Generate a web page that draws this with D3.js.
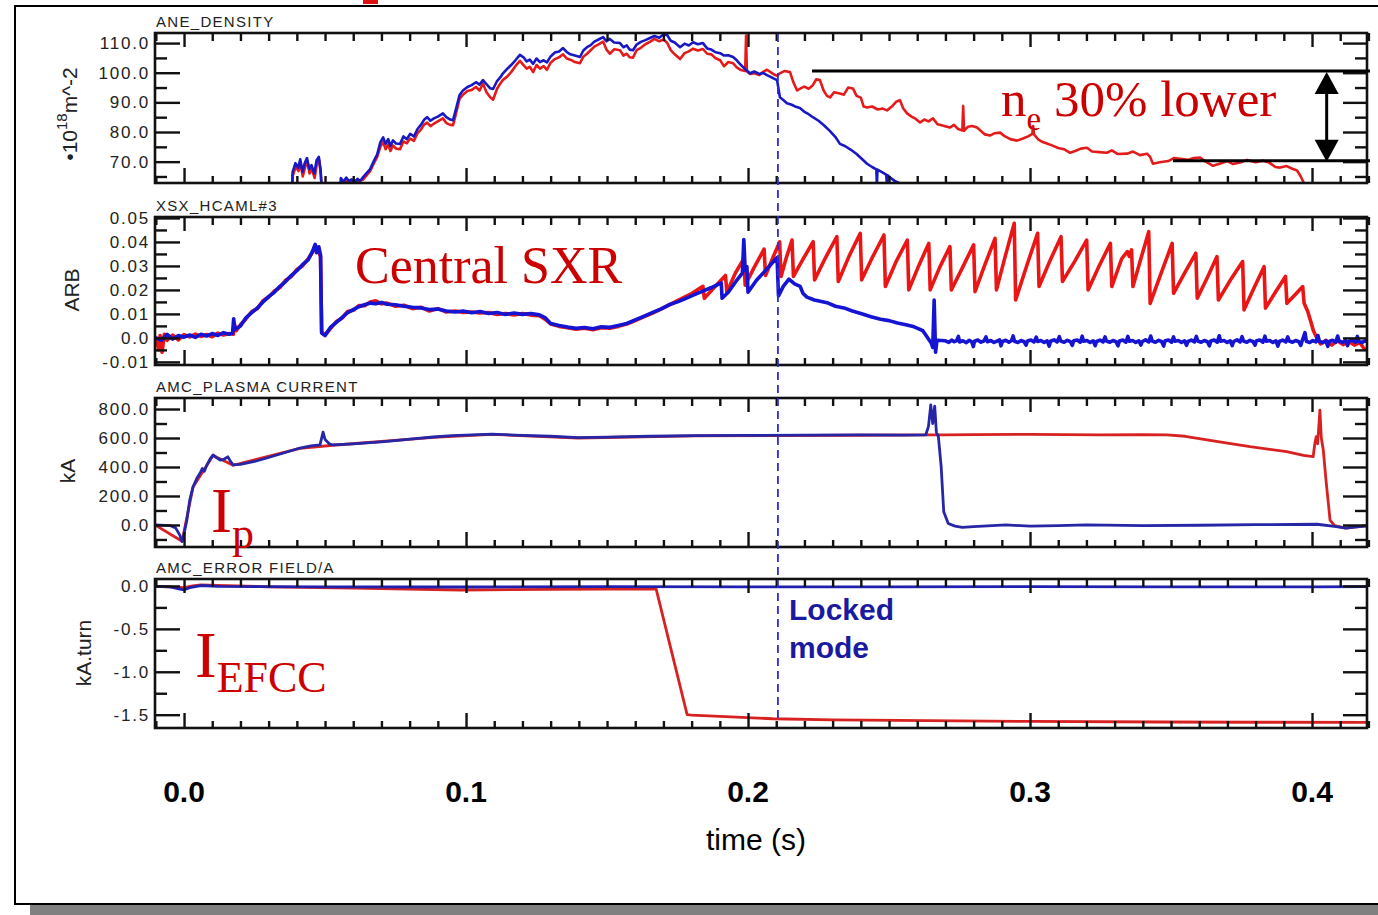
<!DOCTYPE html>
<html>
<head>
<meta charset="utf-8">
<script src="https://d3js.org/d3.v7.min.js"></script>
<style>
body{margin:0;background:#fff;}
svg{display:block;}
</style>
</head>
<body>
<svg class="chart"></svg>
<script>
// time axis
var timeTicks=[0,0.1,0.2,0.3,0.4];
var timeLabels=["0.0","0.1","0.2","0.3","0.4"];
var lockTime=0.2106;

// panel 1: line integrated density
var neTicks=[70,80,90,100,110];
var neLabels=["70.0","80.0","90.0","100.0","110.0"];
var neMinor=[65,75,85,95,105];
var neBlue=[[0.0383,60],[0.0385,66.5],[0.0395,69.5],[0.0405,68],[0.0412,70.8],[0.0420,66.5],[0.0428,69.5],[0.0436,71.2],[0.0444,67.5],[0.0452,68.8],[0.0462,66],[0.0470,70.5],[0.0478,71.6],[0.0484,67.5],[0.0489,60],
[0.0553,60],[0.0556,64.5],[0.0565,63.2],[0.0575,64.6],[0.0585,63.4],[0.0595,64],[0.0605,63.1],[0.0615,64.2],[0.0625,63.5],[0.0635,64.8],[0.0648,66.2],[0.0660,67.5],[0.0672,70],[0.0685,72.5],[0.0696,76.5],[0.0706,78.2],[0.0715,76],[0.0724,77.6],[0.0732,75.3],[0.0741,77.2],[0.0752,76.1],[0.0766,76],[0.0778,78.5],[0.0790,77.6],[0.0802,79.4],[0.0815,78.5],[0.0828,81],[0.0840,82.4],[0.0852,84.2],[0.0862,85],[0.0874,83.8],[0.0886,84.6],[0.0900,85.2],[0.0918,86.3],[0.0930,85],[0.0944,84.2],[0.0954,84],[0.0965,88],[0.0977,92.5],[0.0989,94],[0.1005,95.2],[0.1020,95.8],[0.1035,96.8],[0.1048,96],[0.1060,97.5],[0.1072,96.2],[0.1085,94.8],[0.1096,94.5],[0.1110,97.2],[0.1122,98.5],[0.1131,99.8],[0.1145,101.2],[0.1160,102.6],[0.1175,104.2],[0.1191,106],[0.1204,105.2],[0.1215,103.8],[0.1226,104.4],[0.1238,103],[0.1250,104.8],[0.1262,103.6],[0.1275,104.2],[0.1287,103.5],[0.1300,105.5],[0.1315,106.8],[0.1330,107.2],[0.1344,108.3],[0.1357,107],[0.1370,106.2],[0.1386,105.8],[0.1404,105.3],[0.1416,107.5],[0.1429,108.6],[0.1442,109.3],[0.1455,110.5],[0.1470,111.2],[0.1486,112],[0.1498,110.6],[0.1510,111.4],[0.1525,110.2],[0.1546,110],[0.1558,108.6],[0.1570,109.2],[0.1580,107.8],[0.1592,107.6],[0.1605,109.5],[0.1620,110.4],[0.1636,111],[0.1652,111.7],[0.1668,112.4],[0.1685,111.8],[0.1700,112.9],[0.1713,112.7],[0.1726,110.8],[0.1740,110.2],[0.1759,108.6],[0.1775,109.8],[0.1790,109.2],[0.1805,110.3],[0.1822,109.6],[0.1840,110],[0.1855,108.2],[0.1870,107.8],[0.1885,106.9],[0.1901,106.6],[0.1915,105.8],[0.1930,105.9],[0.1947,105.3],[0.1960,104.2],[0.1975,102.6],[0.1990,101.2],[0.2007,99.8],[0.2022,100.4],[0.2040,99.6],[0.2055,99.9],[0.2067,99.2],[0.2080,98.6],[0.2092,98],[0.2103,97.5],[0.2113,91.7],[0.2125,90.8],[0.2138,89.7],[0.2155,89.2],[0.2170,88.5],[0.2184,88.1],[0.2200,86.8],[0.2215,86],[0.2230,85],[0.2250,83.8],[0.2270,82.2],[0.2290,80.4],[0.2310,78.3],[0.2326,76],[0.2345,75.2],[0.2365,74],[0.2385,72.6],[0.2405,70.8],[0.2422,69.3],[0.2440,68.2],[0.2455,67.4],[0.2457,62],[0.2459,67.3],[0.2475,66.5],[0.2490,65.6],[0.2493,62],[0.2496,65.4],[0.2504,64.6],[0.2520,63.5],[0.2535,62.8],[0.2550,62],[0.2565,60]];
var neRed=[[0.0383,60],[0.0386,65.5],[0.0396,68.2],[0.0406,66.8],[0.0413,69.8],[0.0421,65],[0.0429,68],[0.0437,70.2],[0.0445,66],[0.0453,67.6],[0.0463,64.5],[0.0471,69.2],[0.0479,70.6],[0.0485,65.5],[0.0489,60],
[0.0556,60],[0.0560,63.5],[0.0575,63.2],[0.0590,63.8],[0.0605,62.9],[0.0620,63.6],[0.0635,63.9],[0.0648,65.4],[0.0660,66.8],[0.0672,69.2],[0.0685,71.6],[0.0696,75],[0.0706,76.6],[0.0715,74.2],[0.0724,75.8],[0.0732,73.6],[0.0741,75.5],[0.0752,74.4],[0.0766,74.2],[0.0778,76.8],[0.0790,76.2],[0.0802,77.8],[0.0815,77],[0.0828,79.6],[0.0840,80.8],[0.0852,82.6],[0.0862,83.2],[0.0874,82],[0.0886,82.8],[0.0900,83.6],[0.0918,84.6],[0.0930,83],[0.0944,82.4],[0.0954,82.3],[0.0965,86.4],[0.0977,91.2],[0.0989,92.6],[0.1005,93.8],[0.1020,94.2],[0.1035,95.2],[0.1048,94],[0.1060,96.4],[0.1072,93.5],[0.1085,91.8],[0.1096,90.9],[0.1110,94.6],[0.1122,96.4],[0.1131,97.6],[0.1145,98.6],[0.1160,100.2],[0.1175,102.2],[0.1191,104],[0.1204,102.6],[0.1215,101.4],[0.1226,102],[0.1238,100.2],[0.1250,102.6],[0.1262,101.4],[0.1275,102.2],[0.1287,101],[0.1300,103.4],[0.1315,104.6],[0.1330,105.2],[0.1344,106.2],[0.1357,104.8],[0.1370,104.4],[0.1386,103.6],[0.1404,103.2],[0.1416,105.4],[0.1429,106.4],[0.1442,107.6],[0.1455,108.8],[0.1470,109.6],[0.1486,110.5],[0.1498,107.8],[0.1510,106.4],[0.1525,107.9],[0.1546,107.6],[0.1558,105.8],[0.1570,106.4],[0.1580,105.2],[0.1592,105.1],[0.1605,107.6],[0.1620,108.4],[0.1636,109.6],[0.1652,110.4],[0.1668,111.4],[0.1685,110.6],[0.1700,111.2],[0.1713,110.1],[0.1726,107.6],[0.1740,106.2],[0.1759,104.6],[0.1775,106.6],[0.1790,107.2],[0.1805,108.1],[0.1822,107.5],[0.1840,108],[0.1855,106.4],[0.1870,106.2],[0.1885,104.9],[0.1901,104.2],[0.1915,102.2],[0.1930,103.6],[0.1947,103.2],[0.1960,101.8],[0.1975,100.9],[0.1990,100.6],[0.1993,112.5],[0.1996,100.5],[0.2007,99.6],[0.2022,99.8],[0.2040,99.2],[0.2055,100.4],[0.2067,101],[0.2080,100.2],[0.2092,99.4],[0.2103,99],[0.2113,99.8],[0.2130,100.6],[0.2149,100.2],[0.2160,97],[0.2174,94],[0.2188,94.8],[0.2200,95.3],[0.2215,94.6],[0.2230,95.8],[0.2242,97.8],[0.2255,97.5],[0.2268,94],[0.2280,92.2],[0.2291,91.7],[0.2305,93.4],[0.2326,93],[0.2340,92.6],[0.2355,95],[0.2372,94.7],[0.2385,92.2],[0.2400,91.6],[0.2410,88.6],[0.2422,88.3],[0.2440,88.6],[0.2460,87.6],[0.2478,87.9],[0.2493,87.3],[0.2510,88.6],[0.2525,90.2],[0.2539,90.7],[0.2550,88],[0.2564,86.3],[0.2580,85.2],[0.2595,84.4],[0.2610,83.2],[0.2625,84.2],[0.2640,83.6],[0.2656,84.6],[0.2672,82.6],[0.2690,82.2],[0.2705,81.8],[0.2716,81.5],[0.2730,82.4],[0.2745,81],[0.2760,80.5],[0.2763,88.8],[0.2766,80.4],[0.2780,81.8],[0.2795,82],[0.2812,81.5],[0.2825,80.4],[0.2840,79.2],[0.2858,78.8],[0.2875,79.6],[0.2894,79.8],[0.2910,78.6],[0.2930,77.6],[0.2954,77.1],[0.2975,77.8],[0.2995,78.6],[0.3008,79.4],[0.3011,82],[0.3014,79.2],[0.3030,77.4],[0.3045,76.6],[0.3060,76.1],[0.3080,75.4],[0.3100,74.6],[0.3120,74.2],[0.3142,73],[0.3160,73.6],[0.3180,74.4],[0.3202,74.7],[0.3220,73.4],[0.3245,73.2],[0.3273,73],[0.3290,73.8],[0.3310,72.6],[0.3344,72.7],[0.3365,73.4],[0.3390,72.2],[0.3415,72.7],[0.3426,71.6],[0.3436,69.3],[0.3460,69.8],[0.3490,70.2],[0.3510,71.2],[0.3532,71],[0.3560,70.6],[0.3580,71.2],[0.3603,71.4],[0.3620,70.2],[0.3649,68.6],[0.3675,69.4],[0.3700,70.2],[0.3720,69.2],[0.3745,69.7],[0.3770,70.6],[0.3800,69.8],[0.3826,70.3],[0.3850,69.6],[0.3870,68.2],[0.3887,68],[0.3910,68.5],[0.3930,67.6],[0.3947,67],[0.3960,65],[0.3975,62],[0.3990,60]];
var neLevels=[100.6,70.3];
var neLevelStart=[0.2227,0.3507];
var neArrowTime=0.4052;

// panel 2: central soft x-ray
var sxrTicks=[-0.01,0,0.01,0.02,0.03,0.04,0.05];
var sxrLabels=["-0.01","0.0","0.01","0.02","0.03","0.04","0.05"];
var sxrMinor=[-0.005,0.005,0.015,0.025,0.035,0.045];
var sxrBlue=[[-0.0103,0.0002],[-0.008,-0.001],[-0.006,0.0015],[-0.004,-0.0005],[-0.002,0.001],[0.000,0.0003],[0.002,0.0012],[0.004,0.0002],[0.006,0.0015],[0.008,0.0008],[0.010,0.0018],[0.012,0.001],[0.014,0.0022],[0.016,0.0015],[0.0172,0.002],[0.0176,0.008],[0.0180,0.0035],[0.020,0.005],[0.022,0.0085],[0.024,0.0105],[0.026,0.0125],[0.028,0.015],[0.030,0.0172],[0.032,0.019],[0.034,0.0215],[0.036,0.0235],[0.038,0.026],[0.040,0.028],[0.042,0.0305],[0.044,0.0325],[0.0455,0.036],[0.0465,0.039],[0.047,0.0355],[0.0478,0.038],[0.0484,0.0345],[0.0488,0.002],[0.050,0.001],[0.052,0.0045],[0.054,0.0065],[0.056,0.0085],[0.058,0.0105],[0.060,0.0118],[0.062,0.013],[0.064,0.0138],[0.066,0.0145],[0.068,0.0142],[0.070,0.0148],[0.072,0.014],[0.075,0.0138],[0.078,0.0132],[0.081,0.0128],[0.084,0.0125],[0.087,0.0118],[0.090,0.012],[0.093,0.0112],[0.096,0.0108],[0.099,0.0112],[0.102,0.0105],[0.105,0.011],[0.108,0.0102],[0.111,0.0106],[0.114,0.0098],[0.117,0.0104],[0.120,0.0098],[0.123,0.0102],[0.126,0.0096],[0.128,0.0085],[0.130,0.006],[0.133,0.0052],[0.136,0.0045],[0.139,0.004],[0.142,0.0043],[0.145,0.0038],[0.148,0.0046],[0.151,0.0044],[0.154,0.0052],[0.157,0.006],[0.160,0.0075],[0.163,0.009],[0.166,0.0105],[0.169,0.012],[0.172,0.0138],[0.175,0.015],[0.178,0.0165],[0.181,0.018],[0.184,0.0195],[0.187,0.021],[0.1905,0.0229],[0.1908,0.0165],[0.193,0.019],[0.196,0.024],[0.198,0.027],[0.1985,0.041],[0.199,0.028],[0.1996,0.0297],[0.2,0.019],[0.203,0.024],[0.2065,0.0285],[0.2103,0.0335],[0.2108,0.0175],[0.2125,0.0215],[0.2145,0.0245],[0.2165,0.0225],[0.2185,0.0215],[0.2195,0.0185],[0.2209,0.017],[0.2235,0.0158],[0.226,0.0152],[0.2284,0.0145],[0.231,0.0132],[0.234,0.0125],[0.237,0.0112],[0.240,0.0102],[0.2436,0.0088],[0.247,0.0078],[0.250,0.0072],[0.253,0.0062],[0.256,0.0055],[0.2589,0.0046],[0.262,0.003],[0.2649,-0.002],[0.2655,-0.004],[0.2660,0.0158],[0.2665,-0.006],[0.2670,-0.001],
[0.2700,-0.0012],[0.2712,-0.0019],[0.2722,-0.0009],[0.2731,-0.0016],[0.2740,-0.0011],[0.2746,0.0006],[0.2750,-0.0017],[0.2762,-0.0012],[0.2774,-0.0020],[0.2784,-0.0010],[0.2793,-0.0016],[0.2799,-0.0036],[0.2803,-0.0014],[0.2815,-0.0009],[0.2826,-0.0018],[0.2837,-0.0012],[0.2844,0.0004],[0.2849,-0.0016],[0.2861,-0.0011],[0.2872,-0.0019],[0.2883,-0.0013],[0.2892,-0.0008],[0.2897,-0.0033],[0.2902,-0.0015],[0.2914,-0.0010],[0.2925,-0.0018],[0.2934,-0.0012],[0.2940,0.0008],[0.2945,-0.0014],[0.2957,-0.0019],[0.2968,-0.0011],[0.2979,-0.0016],[0.2986,-0.0030],[0.2991,-0.0013],[0.3003,-0.0009],[0.3014,-0.0017],[0.3022,0.0003],[0.3027,-0.0015],[0.3039,-0.0011],[0.3050,-0.0019],[0.3061,-0.0012],[0.3068,-0.0034],[0.3073,-0.0014],[0.3085,-0.0008],[0.3096,-0.0017],[0.3104,0.0005],[0.3109,-0.0013],[0.3121,-0.0018],[0.3132,-0.0010],[0.3143,-0.0016],[0.3150,-0.0031],[0.3155,-0.0012],[0.3167,-0.0009],[0.3178,-0.0018],[0.3185,0.0007],[0.3190,-0.0014],[0.3202,-0.0011],[0.3213,-0.0019],[0.3224,-0.0012],[0.3231,-0.0032],[0.3236,-0.0015],[0.3248,-0.0009],[0.3259,-0.0017],[0.3266,0.0004],[0.3271,-0.0013],[0.3283,-0.0018],[0.3294,-0.0011],[0.3305,-0.0016],[0.3312,-0.0033],[0.3317,-0.0013],[0.3329,-0.0009],[0.3340,-0.0018],[0.3347,0.0006],[0.3352,-0.0014],[0.3364,-0.0011],[0.3375,-0.0019],[0.3386,-0.0012],[0.3393,-0.0030],[0.3398,-0.0015],[0.3410,-0.0008],[0.3421,-0.0017],[0.3428,0.0008],[0.3433,-0.0013],[0.3445,-0.0018],[0.3456,-0.0010],[0.3467,-0.0016],[0.3474,-0.0034],[0.3479,-0.0012],[0.3491,-0.0009],[0.3502,-0.0018],[0.3509,0.0004],[0.3514,-0.0014],[0.3526,-0.0011],[0.3537,-0.0019],[0.3548,-0.0012],[0.3555,-0.0031],[0.3560,-0.0015],[0.3572,-0.0009],[0.3583,-0.0017],[0.3590,0.0006],[0.3595,-0.0013],[0.3607,-0.0018],[0.3618,-0.0011],[0.3629,-0.0016],[0.3636,-0.0033],[0.3641,-0.0013],[0.3653,-0.0009],[0.3664,-0.0018],[0.3671,0.0009],[0.3676,-0.0014],[0.3688,-0.0011],[0.3699,-0.0019],[0.3710,-0.0012],[0.3717,-0.0032],[0.3722,-0.0015],[0.3734,-0.0008],[0.3745,-0.0017],[0.3752,0.0005],[0.3757,-0.0013],[0.3769,-0.0018],[0.3780,-0.0010],[0.3791,-0.0016],[0.3798,-0.0030],[0.3803,-0.0012],[0.3815,-0.0009],[0.3826,-0.0018],[0.3833,0.0007],[0.3838,-0.0014],[0.3850,-0.0011],[0.3861,-0.0019],[0.3872,-0.0012],[0.3879,-0.0034],[0.3884,-0.0015],[0.3896,-0.0009],[0.3907,-0.0017],[0.3914,0.0004],[0.3919,-0.0013],[0.3931,-0.0018],[0.3942,-0.0011],[0.3953,-0.0016],[0.3960,-0.0031],[0.3965,-0.0013],[0.3975,0.0022],[0.3980,-0.0014],[0.3992,-0.0019],[0.4003,-0.0011],[0.4014,-0.0017],[0.4021,0.0010],[0.4026,-0.0014],[0.4038,-0.0020],[0.4049,-0.0012],[0.4056,-0.0035],[0.4061,-0.0015],[0.4073,-0.0010],[0.4084,-0.0018],[0.4091,0.0008],[0.4096,-0.0013],[0.4108,-0.0019],[0.4119,-0.0011],[0.4126,-0.0032],[0.4131,-0.0014],[0.4143,-0.0010],[0.4154,-0.0018],[0.4161,0.0006],[0.4166,-0.0015],[0.4178,-0.0019],[0.4189,-0.0012],[0.4195,-0.0016]];
var sxrRed=[[-0.0103,0.0],[-0.0095,-0.002],[-0.009,-0.005],[-0.0085,0.001],[-0.0078,-0.006],[-0.007,0.0015],[-0.006,-0.001],[-0.004,0.0012],[-0.002,-0.0008],[0.000,0.0014],[0.002,0.0004],[0.004,0.0016],[0.006,0.0006],[0.008,0.0014],[0.010,0.0005],[0.012,0.002],[0.014,0.0012],[0.016,0.0018],[0.0175,0.0015],[0.0178,0.006],[0.0185,0.003],[0.020,0.0055],[0.022,0.008],[0.024,0.011],[0.026,0.0122],[0.028,0.0155],[0.030,0.017],[0.032,0.0195],[0.034,0.021],[0.036,0.024],[0.038,0.0255],[0.040,0.0285],[0.042,0.030],[0.044,0.033],[0.0455,0.0355],[0.0465,0.0385],[0.0475,0.0365],[0.0484,0.034],[0.0488,0.0025],[0.050,0.0012],[0.052,0.004],[0.054,0.0068],[0.056,0.0082],[0.058,0.011],[0.060,0.0115],[0.062,0.0135],[0.064,0.0134],[0.066,0.015],[0.068,0.0155],[0.070,0.0142],[0.072,0.0145],[0.075,0.0132],[0.078,0.0136],[0.081,0.0122],[0.084,0.0128],[0.087,0.0112],[0.090,0.0122],[0.093,0.0108],[0.096,0.0112],[0.099,0.0106],[0.102,0.0108],[0.105,0.0104],[0.108,0.0106],[0.111,0.0098],[0.114,0.0102],[0.117,0.0096],[0.120,0.0102],[0.123,0.0095],[0.126,0.0092],[0.128,0.0078],[0.130,0.0058],[0.133,0.0048],[0.136,0.0042],[0.139,0.0036],[0.142,0.004],[0.145,0.0034],[0.148,0.0042],[0.151,0.004],[0.154,0.0048],[0.157,0.0058],[0.160,0.0072],[0.163,0.0088],[0.166,0.0102],[0.170,0.0125],[0.175,0.0155],[0.180,0.0185],[0.1840,0.0215],[0.1845,0.0165],[0.188,0.021],[0.1920,0.026],[0.1925,0.019],[0.1955,0.027],[0.1985,0.033],[0.199,0.022],[0.202,0.029],[0.2057,0.037],[0.2062,0.026],[0.209,0.034],
[0.2112,0.0400],[0.2117,0.0256],[0.2136,0.0335],[0.2156,0.0408],
[0.2161,0.0256],[0.2196,0.0330],[0.2231,0.0401],
[0.2236,0.0242],[0.2275,0.0335],[0.2315,0.0422],
[0.2320,0.0235],[0.2358,0.0340],[0.2398,0.0436],
[0.2403,0.0242],[0.2442,0.0338],[0.2482,0.0429],
[0.2487,0.0214],[0.2525,0.0318],[0.2565,0.0408],
[0.2570,0.0200],[0.2605,0.0300],[0.2641,0.0394],
[0.2646,0.0200],[0.2680,0.0295],[0.2716,0.0381],
[0.2721,0.0200],[0.2760,0.0292],[0.2800,0.0388],
[0.2805,0.0193],[0.2840,0.0305],[0.2876,0.0415],
[0.2881,0.0200],[0.2912,0.0340],[0.2944,0.0478],
[0.2949,0.0158],[0.2988,0.0300],[0.3027,0.0436],
[0.3032,0.0214],[0.3070,0.0320],[0.3110,0.0422],
[0.3115,0.0235],[0.3158,0.0318],[0.3201,0.0408],
[0.3206,0.0200],[0.3245,0.0300],[0.3285,0.0394],
[0.3290,0.0214],[0.3325,0.0330],[0.3345,0.0360],[0.3352,0.0340],[0.3360,0.0367],
[0.3365,0.0214],[0.3393,0.0330],[0.3421,0.0443],
[0.3426,0.0144],[0.3465,0.0270],[0.3504,0.0394],
[0.3509,0.0186],[0.3548,0.0270],[0.3588,0.0353],
[0.3593,0.0165],[0.3628,0.0250],[0.3663,0.0339],
[0.3668,0.0158],[0.3710,0.0240],[0.3754,0.0318],
[0.3759,0.0117],[0.3795,0.0210],[0.3830,0.0297],
[0.3835,0.0124],[0.3870,0.0190],[0.3906,0.0256],
[0.3911,0.0144],[0.3940,0.0180],[0.3967,0.0214],
[0.3972,0.0144],[0.3985,0.0110],[0.3995,0.0070],[0.4005,0.0030],[0.4015,0.0005],[0.403,-0.0025],[0.405,-0.001],[0.407,-0.003],[0.409,-0.0012],[0.411,-0.0028],[0.413,-0.0015],[0.415,-0.003],[0.417,-0.002],[0.4185,-0.0045],[0.4195,-0.005]];

// panel 3: plasma current
var ipTicks=[0,200,400,600,800];
var ipLabels=["0.0","200.0","400.0","600.0","800.0"];
var ipMinor=[-100,100,300,500,700];
var ipBlue=[[-0.0103,0],[-0.005,-4],[-0.003,-20],[-0.0015,-70],[-0.0007,-115],[0.0,-60],[0.001,34],[0.002,170],[0.0032,264],[0.0045,320],[0.0057,358],[0.0065,390],[0.0072,370],[0.008,410],[0.0092,455],[0.0103,483],[0.0115,465],[0.0128,448],[0.0140,452],[0.0155,470],[0.0163,445],[0.0174,414],[0.020,418],[0.025,438],[0.0294,462],[0.035,495],[0.0411,531],[0.0450,545],[0.0482,552],[0.0493,641],[0.0500,590],[0.0515,560],[0.0528,552],[0.0600,560],[0.0649,566],[0.0700,574],[0.0766,586],[0.0830,598],[0.0884,607],[0.0950,616],[0.1092,627],[0.1200,618],[0.1300,612],[0.1397,602],[0.1500,606],[0.1650,612],[0.1812,616],[0.2000,618],[0.2200,620],[0.2400,621],[0.2550,620],[0.2630,621],[0.2640,680],[0.2648,828],[0.2655,700],[0.2662,820],[0.2668,640],[0.2675,610],[0.2685,400],[0.2694,92],[0.2710,10],[0.2734,-8],[0.2760,-17],[0.2800,-12],[0.2915,0],[0.3000,-8],[0.3100,-4],[0.3200,0],[0.3400,-5],[0.3600,-2],[0.3800,2],[0.4018,5],[0.4080,-10],[0.4120,-22],[0.4150,-14],[0.4195,-6]];
var ipRed=[[-0.0103,0],[-0.0007,-112],[0.0032,262],[0.0103,480],[0.0174,412],[0.0411,529],[0.0528,550],[0.0884,605],[0.1092,625],[0.1397,600],[0.1812,614],[0.2400,619],[0.2630,621],[0.2700,622],[0.2800,624],[0.3000,625],[0.3248,621],[0.3400,624],[0.3486,621],[0.3550,612],[0.3600,595],[0.3700,565],[0.3780,540],[0.3850,522],[0.3910,506],[0.3970,480],[0.4004,471],[0.4010,560],[0.4015,610],[0.4020,560],[0.4028,793],[0.4033,600],[0.4040,517],[0.4050,300],[0.4064,34],[0.4080,-5],[0.4120,-22],[0.4150,-14],[0.4195,-6]];

// panel 4: error field correction coil current
var efTicks=[-1.5,-1.0,-0.5,0.0];
var efLabels=["-1.5","-1.0","-0.5","0.0"];
var efMinor=[-1.25,-0.75,-0.25];
var efBlue=[[-0.0103,-0.005],[-0.005,-0.01],[-0.001,-0.04],[0.0,-0.045],[0.002,-0.02],[0.006,0.005],[0.012,-0.005],[0.05,-0.01],[0.1,-0.012],[0.15,-0.008],[0.2,-0.01],[0.25,-0.01],[0.3,-0.008],[0.35,-0.01],[0.4,-0.01],[0.4195,-0.008]];
var efRed=[[-0.0103,-0.005],[-0.005,-0.01],[0.0,-0.02],[0.003,0.0],[0.006,0.012],[0.012,0.006],[0.03,-0.01],[0.06,-0.025],[0.098,-0.047],[0.13,-0.04],[0.1674,-0.035],[0.1784,-1.50],[0.180,-1.505],[0.19,-1.52],[0.2087,-1.547],[0.23,-1.56],[0.2638,-1.57],[0.30,-1.578],[0.3467,-1.585],[0.38,-1.588],[0.4195,-1.59]];

var screen={width:1378,height:915};
var svg=d3.select("svg.chart")
          .attr("width",screen.width)
          .attr("height",screen.height);

var plotLeft=155,plotRight=1367;
var xscale=d3.scaleLinear()
             .domain([-0.0103,0.4195])
             .range([plotLeft,plotRight]);

var panels=[
  {title:"ANE_DENSITY",top:33,bottom:183,domain:[62.8,113.4],ticks:neTicks,labels:neLabels,minor:neMinor,red:neRed,blue:neBlue,blueColor:"#1818c4",redColor:"#e41b1b",width:2.6},
  {title:"XSX_HCAML#3",top:217,bottom:365,domain:[-0.0113,0.0504],ticks:sxrTicks,labels:sxrLabels,minor:sxrMinor,red:sxrRed,blue:sxrBlue,blueColor:"#1414d2",redColor:"#ea1616",width:3.6},
  {title:"AMC_PLASMA CURRENT",top:398,bottom:547,domain:[-152,876],ticks:ipTicks,labels:ipLabels,minor:ipMinor,red:ipRed,blue:ipBlue,blueColor:"#2626a6",redColor:"#d82222",width:2.8},
  {title:"AMC_ERROR FIELD/A",top:579,bottom:728,domain:[-1.655,0.081],ticks:efTicks,labels:efLabels,minor:efMinor,red:efRed,blue:efBlue,blueColor:"#2020b0",redColor:"#d82222",width:2.8}
];

// outer frame and shadow
svg.append("rect").attr("x",30).attr("y",905).attr("width",1360).attr("height",12).attr("fill","#808080");
svg.append("rect").attr("x",15).attr("y",6).attr("width",1400).attr("height",898)
   .attr("fill","#fff").attr("stroke","#000").attr("stroke-width",2);
svg.append("rect").attr("x",363).attr("y",0).attr("width",15).attr("height",4).attr("fill","#dd1111");

var minorX=d3.range(-0.01,0.4201,0.01).map(function(d){return Math.round(d*100)/100;})
             .filter(function(d){return timeTicks.indexOf(d)<0;});

var styleAxis=function(g){
  g.select(".domain").remove();
  g.selectAll("line").attr("stroke","#111").attr("stroke-width",2.4);
  g.selectAll("text").attr("font-family","'Liberation Sans',Arial,sans-serif")
   .attr("font-size",17).attr("letter-spacing",1.8).attr("fill","#222");
};

var drawPanel=function(p,i){
  var yscale=d3.scaleLinear().domain(p.domain).range([p.bottom,p.top]);
  var g=svg.append("g").classed("panel",true);
  g.append("clipPath").attr("id","clip"+i)
   .append("rect").attr("x",plotLeft).attr("y",p.top)
   .attr("width",plotRight-plotLeft).attr("height",p.bottom-p.top);
  var line=d3.line()
             .x(function(d){return xscale(d[0]);})
             .y(function(d){return yscale(d[1]);});
  var lines=g.append("g").attr("clip-path","url(#clip"+i+")");
  lines.append("path").datum(p.red).attr("d",line)
       .attr("fill","none").attr("stroke",p.redColor)
       .attr("stroke-width",p.width).attr("stroke-linejoin","round");
  lines.append("path").datum(p.blue).attr("d",line)
       .attr("fill","none").attr("stroke",p.blueColor)
       .attr("stroke-width",p.width).attr("stroke-linejoin","round");

  // y axes, ticks pointing inward
  g.append("g").attr("transform","translate("+plotLeft+",0)")
   .call(d3.axisLeft(yscale).tickValues(p.ticks).tickSize(-25).tickPadding(5)
         .tickFormat(function(d,j){return p.labels[j];}))
   .call(styleAxis);
  g.append("g").attr("transform","translate("+plotLeft+",0)")
   .call(d3.axisLeft(yscale).tickValues(p.minor).tickSize(-12).tickFormat(""))
   .call(styleAxis);
  g.append("g").attr("transform","translate("+plotRight+",0)")
   .call(d3.axisRight(yscale).tickValues(p.ticks).tickSize(-24).tickFormat(""))
   .call(styleAxis);
  g.append("g").attr("transform","translate("+plotRight+",0)")
   .call(d3.axisRight(yscale).tickValues(p.minor).tickSize(-12).tickFormat(""))
   .call(styleAxis);
  // time ticks top and bottom
  g.append("g").attr("transform","translate(0,"+p.top+")")
   .call(d3.axisTop(xscale).tickValues(timeTicks).tickSize(-14).tickFormat(""))
   .call(styleAxis);
  g.append("g").attr("transform","translate(0,"+p.top+")")
   .call(d3.axisTop(xscale).tickValues(minorX).tickSize(-8).tickFormat(""))
   .call(styleAxis);
  g.append("g").attr("transform","translate(0,"+p.bottom+")")
   .call(d3.axisBottom(xscale).tickValues(timeTicks).tickSize(-15).tickFormat(""))
   .call(styleAxis);
  g.append("g").attr("transform","translate(0,"+p.bottom+")")
   .call(d3.axisBottom(xscale).tickValues(minorX).tickSize(-7).tickFormat(""))
   .call(styleAxis);

  g.append("rect").attr("x",plotLeft).attr("y",p.top)
   .attr("width",plotRight-plotLeft).attr("height",p.bottom-p.top)
   .attr("fill","none").attr("stroke","#111").attr("stroke-width",2.6);
  g.append("text").attr("x",156).attr("y",p.top-6)
   .attr("font-family","'Liberation Sans',Arial,sans-serif").attr("font-size",15)
   .attr("letter-spacing",1.3).attr("fill","#222").text(p.title);
  return yscale;
};

var scales=panels.map(drawPanel);

// y axis titles
var yTitle=function(x,y){
  return svg.append("text").attr("transform","translate("+x+","+y+") rotate(-90)")
            .attr("text-anchor","middle")
            .attr("font-family","'Liberation Sans',Arial,sans-serif")
            .attr("font-size",21).attr("fill","#222");
};
var t1=yTitle(77,114);
t1.append("tspan").text("\u202210");
t1.append("tspan").attr("font-size",15).attr("dy",-10).text("18");
t1.append("tspan").attr("dy",10).text("m^-2");
yTitle(79,290).text("ARB");
yTitle(75,471).text("kA");
yTitle(91,653).text("kA.turn");

// density drop markers
var ny=scales[0];
svg.append("line").attr("x1",xscale(neLevelStart[0])).attr("x2",1370)
   .attr("y1",ny(neLevels[0])).attr("y2",ny(neLevels[0]))
   .attr("stroke","#000").attr("stroke-width",3);
svg.append("line").attr("x1",xscale(neLevelStart[1])).attr("x2",1370)
   .attr("y1",ny(neLevels[1])).attr("y2",ny(neLevels[1]))
   .attr("stroke","#000").attr("stroke-width",3);
var ax=xscale(neArrowTime),ay1=ny(neLevels[0]),ay2=ny(neLevels[1]);
svg.append("line").attr("x1",ax).attr("x2",ax).attr("y1",ay1+18).attr("y2",ay2-18)
   .attr("stroke","#000").attr("stroke-width",3);
svg.append("path").attr("d","M"+ax+","+(ay1+1)+" L"+(ax-12)+","+(ay1+23)+" L"+(ax+12)+","+(ay1+23)+" Z").attr("fill","#000");
svg.append("path").attr("d","M"+ax+","+(ay2+1)+" L"+(ax-12)+","+(ay2-21)+" L"+(ax+12)+","+(ay2-21)+" Z").attr("fill","#000");

// locked mode marker
svg.append("line").attr("x1",xscale(lockTime)).attr("x2",xscale(lockTime))
   .attr("y1",34).attr("y2",722)
   .attr("stroke","#2a2ae6").attr("stroke-width",1.8).attr("stroke-dasharray","8,5");

// annotations
var serif="'Liberation Serif','Times New Roman',serif";
var red="#cc0000";
var ne=svg.append("text").attr("x",1001).attr("y",116).attr("font-family",serif).attr("font-size",51).attr("fill",red);
ne.append("tspan").text("n");
ne.append("tspan").attr("font-size",33).attr("dy",14).text("e");
ne.append("tspan").attr("dy",-14).text(" 30% lower");
svg.append("text").attr("x",355).attr("y",283).attr("font-family",serif).attr("font-size",52).attr("fill",red).text("Central SXR");
var ip=svg.append("text").attr("x",211).attr("y",532).attr("font-family",serif).attr("font-size",63).attr("fill",red);
ip.append("tspan").text("I");
ip.append("tspan").attr("font-size",44).attr("dy",16).text("p");
var ie=svg.append("text").attr("x",195).attr("y",677).attr("font-family",serif).attr("font-size",65).attr("fill",red);
ie.append("tspan").text("I");
ie.append("tspan").attr("font-size",44).attr("dy",15).text("EFCC");
svg.append("text").attr("x",789).attr("y",620).attr("font-family","'Liberation Sans',Arial,sans-serif")
   .attr("font-weight","bold").attr("font-size",30).attr("fill","#1a1aa0").text("Locked");
svg.append("text").attr("x",789).attr("y",658).attr("font-family","'Liberation Sans',Arial,sans-serif")
   .attr("font-weight","bold").attr("font-size",30).attr("fill","#1a1aa0").text("mode");

// time labels
svg.selectAll("text.tlabel").data(timeTicks).enter().append("text")
   .classed("tlabel",true)
   .attr("x",function(d){return xscale(d);}).attr("y",802)
   .attr("text-anchor","middle").attr("font-family","'Liberation Sans',Arial,sans-serif")
   .attr("font-weight","bold").attr("font-size",30).attr("fill","#000")
   .text(function(d,i){return timeLabels[i];});
svg.append("text").attr("x",756).attr("y",850).attr("text-anchor","middle")
   .attr("font-family","'Liberation Sans',Arial,sans-serif").attr("font-size",30)
   .attr("fill","#000").text("time (s)");
</script>
</body>
</html>
